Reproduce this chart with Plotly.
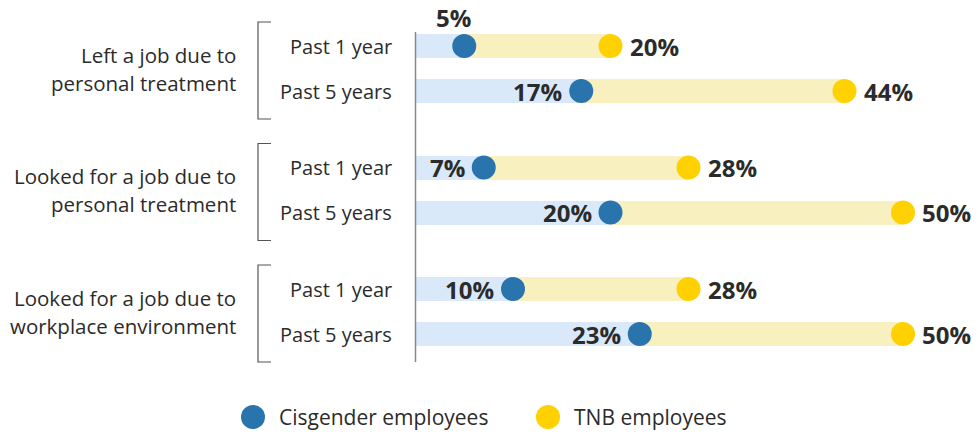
import plotly.graph_objects as go

groups = [["Left a job due to", "personal treatment"],
          ["Looked for a job due to", "personal treatment"],
          ["Looked for a job due to", "workplace environment"]]
periods = ["Past 1 year", "Past 5 years"]
cis = [5, 17, 7, 20, 10, 23]
tnb = [20, 44, 28, 50, 28, 50]
series_names = ["Cisgender employees", "TNB employees"]

W, H = 978, 435
X0 = 415.5          # pixel of 0%
PX = 9.75           # pixels per percent
BLUE, YEL = "#2a74ae", "#ffd100"
LBLUE, LYEL = "#d9e9fa", "#f9f0c0"
TXT = "#2b2b2b"
FONT = "Open Sans"

rows_y = []
row_labels = []
for g in range(len(groups)):
    for r in range(len(periods)):
        rows_y.append(46 + g * 121.5 + r * 45)
        row_labels.append(periods[r])

fig = go.Figure()
fig.add_trace(go.Bar(y=rows_y, x=cis, base=[0] * len(cis), orientation="h",
                     width=24, marker=dict(color=LBLUE, line_width=0),
                     showlegend=False, hoverinfo="skip"))
fig.add_trace(go.Bar(y=rows_y, x=[t - c for t, c in zip(tnb, cis)], base=cis,
                     orientation="h", width=24,
                     marker=dict(color=LYEL, line_width=0),
                     showlegend=False, hoverinfo="skip"))
fig.add_trace(go.Scatter(y=rows_y, x=cis, mode="markers", name=series_names[0],
                         marker=dict(color=BLUE, size=24), showlegend=False))
fig.add_trace(go.Scatter(y=rows_y, x=tnb, mode="markers", name=series_names[1],
                         marker=dict(color=YEL, size=24), showlegend=False))

VAL_FONT = dict(family=FONT, size=24, color=TXT, weight=700)
ann = []
for y, c, t, lab in zip(rows_y, cis, tnb, row_labels):
    if c < 6:
        ann.append(dict(x=c, y=y, text=f"{c}%", xref="x", yref="y", showarrow=False,
                        xanchor="center", yanchor="middle", xshift=-11, yshift=29,
                        font=VAL_FONT))
    else:
        ann.append(dict(x=c, y=y, text=f"{c}%", xref="x", yref="y", showarrow=False,
                        xanchor="right", yanchor="middle", xshift=-17,
                        font=VAL_FONT))
    ann.append(dict(x=t, y=y, text=f"{t}%", xref="x", yref="y", showarrow=False,
                    xanchor="left", yanchor="middle", xshift=17,
                    font=VAL_FONT))
    ann.append(dict(x=394 / W, y=y, text=lab, xref="paper", yref="y", showarrow=False,
                    xanchor="right", yanchor="middle",
                    font=dict(family=FONT, size=20, color=TXT)))

shapes = []
for g, lines in enumerate(groups):
    y1, y2 = rows_y[2 * g], rows_y[2 * g + 1]
    top, bot = y1 - 24, y2 + 28
    mid = (y1 + y2) / 2
    for k, line in enumerate(lines):
        ann.append(dict(x=238 / W, y=mid + (k - 0.5) * 28, text=line, xref="paper",
                        yref="y", showarrow=False, xanchor="right", yanchor="middle",
                        font=dict(family=FONT, size=20.5, color=TXT)))
    xl, xr = 258 / W, 271 / W
    shapes.append(dict(type="path", xref="paper", yref="y",
                       path=f"M {xr} {top} L {xl} {top} L {xl} {bot} L {xr} {bot}",
                       line=dict(color="#555", width=1.2)))

# axis line at 0%
shapes.append(dict(type="line", xref="x", yref="y", x0=0, x1=0, y0=32, y1=362,
                   line=dict(color="#888", width=1.5)))

# legend
leg = [(253, BLUE, series_names[0]), (548, YEL, series_names[1])]
for cx, col, name in leg:
    shapes.append(dict(type="circle", xref="paper", yref="paper",
                       x0=(cx - 12) / W, x1=(cx + 12) / W,
                       y0=1 - (417 + 12) / H, y1=1 - (417 - 12) / H,
                       fillcolor=col, line_width=0))
    ann.append(dict(x=(cx + 24) / W, y=1 - 417 / H, text=name, xref="paper", yref="paper",
                    showarrow=False, xanchor="left", yanchor="middle",
                    font=dict(family=FONT, size=21, color=TXT)))

fig.update_layout(
    width=W, height=H, margin=dict(l=0, r=0, t=0, b=0),
    paper_bgcolor="white", plot_bgcolor="white",
    barmode="overlay", bargap=0,
    xaxis=dict(range=[-X0 / PX, (W - X0) / PX], visible=False, fixedrange=True),
    yaxis=dict(range=[H, 0], visible=False, fixedrange=True),
    annotations=ann, shapes=shapes, showlegend=False,
)
fig.write_html("out.html", config={"displayModeBar": False},
               post_script="document.body.style.margin='0';document.body.style.overflow='hidden';")
